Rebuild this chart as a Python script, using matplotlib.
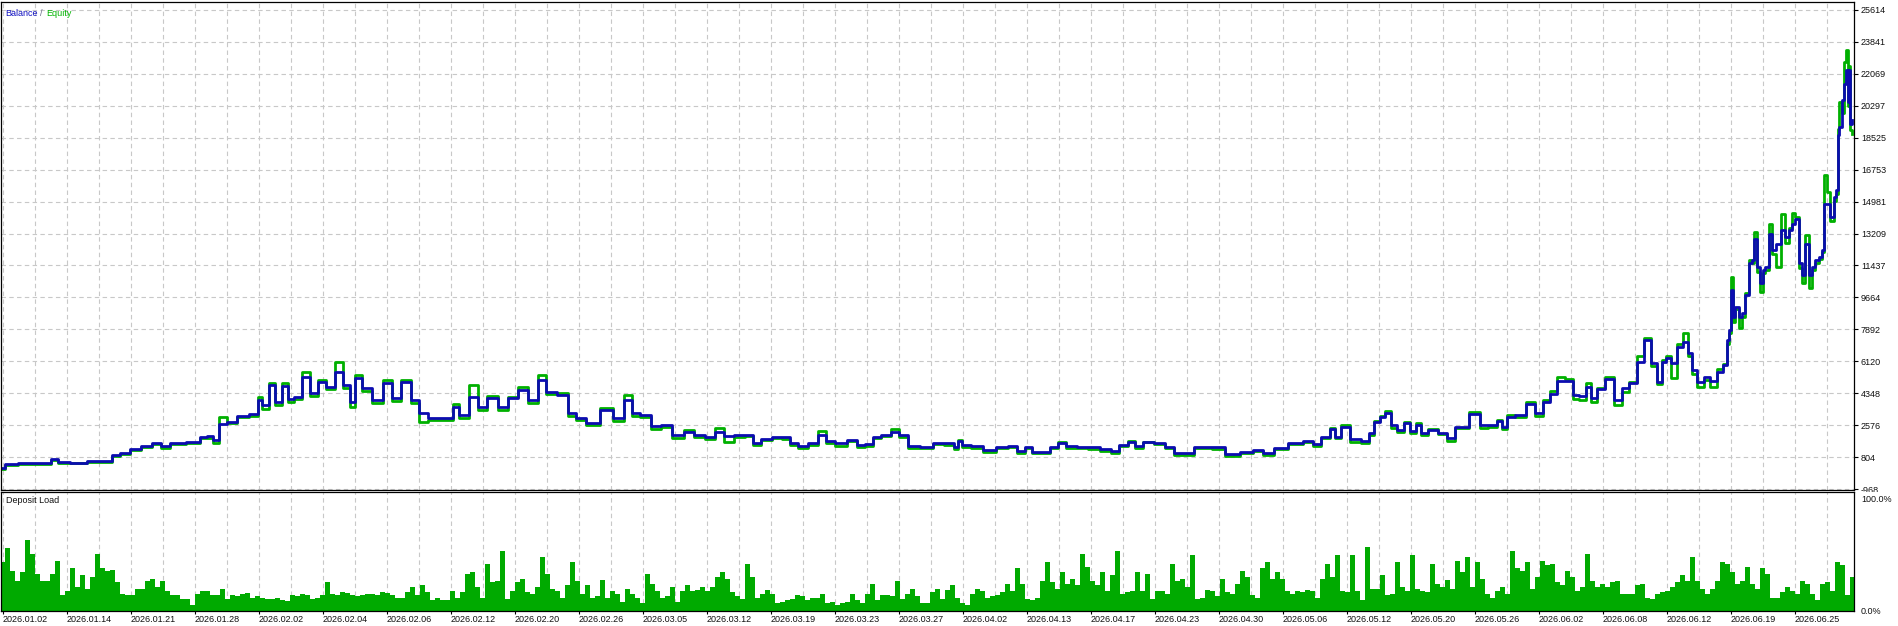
import matplotlib.pyplot as plt
import numpy as np

plt.rcParams['font.family'] = ['Liberation Sans', 'DejaVu Sans']

# balance / equity curve, x = deal number
deal = [0, 10, 25, 45, 56, 60, 80, 94, 109, 114, 125, 134, 147, 156, 165, 175, 196, 203, 210, 216,
        221, 232, 241, 257, 259, 265, 272, 278, 286, 290, 298, 306, 314, 321, 330, 339, 346, 353, 357, 367,
        377, 388, 395, 406, 415, 422, 433, 451, 455, 462, 475, 480, 493, 502, 513, 522, 533, 542, 549, 565,
        571, 580, 592, 607, 618, 629, 634, 646, 656, 665, 679, 688, 700, 710, 720, 727, 740, 750, 755, 767,
        777, 787, 793, 803, 813, 822, 830, 840, 853, 860, 870, 875, 887, 895, 903, 913, 927, 938, 950, 957,
        959, 965, 977, 988, 1003, 1013, 1020, 1030, 1033, 1047, 1053, 1062, 1070, 1083, 1093, 1107, 1115, 1123, 1132, 1138,
        1148, 1160, 1170, 1178, 1190, 1197, 1207, 1217, 1233, 1247, 1258, 1268, 1280, 1295, 1310, 1315, 1327, 1332, 1337, 1345,
        1355, 1367, 1370, 1378, 1382, 1388, 1393, 1400, 1407, 1413, 1418, 1423, 1433, 1443, 1450, 1460, 1477, 1483, 1493, 1500,
        1503, 1510, 1520, 1532, 1538, 1547, 1553, 1560, 1570, 1575, 1583, 1588, 1593, 1600, 1610, 1618, 1625, 1633, 1640, 1648,
        1653, 1660, 1663, 1668, 1673, 1680, 1685, 1690, 1693, 1700, 1707, 1713, 1720, 1725, 1728, 1730, 1732, 1733, 1737, 1740,
        1743, 1747, 1750, 1753, 1755, 1758, 1762, 1763, 1767, 1770, 1773, 1778, 1783, 1787, 1790, 1793, 1797, 1800, 1803, 1807,
        1810, 1813, 1817, 1820, 1823, 1825, 1828, 1832, 1835, 1837, 1838, 1840, 1843, 1845, 1847, 1848, 1849, 1851, 1852]

balance = [195, 433, 472, 472, 693, 544, 516, 599, 599, 931, 1059, 1264, 1430, 1613, 1430, 1624, 1668, 1945, 2000, 1762,
           2648, 2759, 3119, 3202, 3977, 3700, 4808, 3883, 4753, 4016, 4160, 5234, 4348, 4991, 4714, 5545, 4808, 3883, 5179, 4625,
           3977, 4902, 4071, 4991, 3977, 3241, 2964, 2964, 3606, 3147, 4160, 3606, 4071, 3606, 4071, 4531, 3977, 5085, 4437, 4254,
           3241, 2964, 2720, 3423, 2964, 3977, 3241, 3147, 2537, 2593, 2039, 2222, 2039, 1912, 2222, 1984, 2039, 2039, 1613, 1801,
           1912, 1912, 1613, 1430, 1579, 2039, 1723, 1579, 1762, 1485, 1541, 1912, 2039, 2222, 2039, 1430, 1391, 1613, 1613, 1391,
           1723, 1485, 1430, 1208, 1391, 1430, 1170, 1358, 1114, 1114, 1358, 1613, 1430, 1391, 1358, 1247, 1170, 1485, 1668, 1430,
           1668, 1613, 1391, 1059, 1026, 1391, 1391, 1391, 987, 1114, 1208, 1026, 1302, 1613, 1723, 1541, 1945, 2355, 1945, 2465,
           1801, 1723, 2133, 2776, 3052, 3274, 2593, 2316, 2687, 2277, 2593, 2166, 2316, 2166, 1856, 2499, 3202, 2593, 2593, 2831,
           2499, 3052, 3147, 3756, 3241, 3883, 4310, 5046, 5046, 4254, 4199, 4714, 4071, 4570, 5124, 3977, 4625, 4902, 6098, 7300,
           6010, 4991, 6098, 6287, 6043, 6929, 7206, 6564, 5639, 4991, 5234, 5046, 5545, 5916, 7300, 7854, 10069, 8574, 9144, 8590,
           8795, 9792, 11548, 11730, 12932, 11359, 10440, 11177, 11359, 13209, 12284, 12655, 13392, 13021, 13392, 13763, 14040, 11548, 10900, 12655,
           10900, 11359, 11730, 11913, 12284, 14871, 14871, 14128, 15236, 15607, 18653, 19113, 20592, 21517, 22253, 20497, 22253, 19301, 19484]

equity = [150, 380, 420, 430, 650, 500, 470, 560, 540, 880, 1000, 1200, 1350, 1560, 1320, 1560, 1600, 1900, 1880, 1600,
          3050, 2700, 3050, 3100, 4150, 3500, 4950, 3700, 4900, 3850, 4050, 5545, 4200, 5100, 4600, 6098, 4650, 3606, 5350, 4480,
          3800, 5100, 3900, 5100, 3800, 2750, 2850, 2880, 3750, 3000, 4808, 3450, 4200, 3450, 4150, 4700, 3800, 5362, 4300, 4350,
          3100, 2850, 2600, 3550, 2800, 4254, 3100, 3050, 2400, 2500, 1900, 2300, 1950, 1800, 2410, 1668, 1950, 1980, 1500, 1750,
          1850, 1800, 1500, 1300, 1500, 2260, 1600, 1450, 1700, 1350, 1450, 1850, 2000, 2355, 1950, 1300, 1300, 1550, 1500, 1280,
          1750, 1380, 1330, 1100, 1320, 1350, 1060, 1300, 1020, 1030, 1300, 1650, 1330, 1300, 1280, 1150, 1070, 1420, 1700, 1330,
          1640, 1520, 1300, 950, 940, 1340, 1300, 1280, 900, 1050, 1150, 950, 1250, 1550, 1680, 1420, 1900, 2450, 1850, 2600,
          1650, 1600, 2050, 2800, 3100, 3350, 2450, 2200, 2750, 2150, 2700, 2050, 2400, 2080, 1700, 2450, 3300, 2450, 2500, 2900,
          2350, 3150, 3050, 3850, 3100, 4000, 4500, 5250, 5150, 4050, 4000, 4900, 3850, 4650, 5250, 3700, 4450, 5000, 6400, 7394,
          5850, 4863, 6200, 6400, 5179, 7100, 7671, 6400, 5400, 4714, 5100, 4714, 5700, 5950, 7100, 7700, 10806, 8300, 9000, 7966,
          8600, 9900, 11730, 11600, 13297, 11100, 9975, 11000, 11200, 13763, 12100, 11359, 14317, 12700, 13500, 14350, 14100, 11300, 10440, 13117,
          10163, 11200, 11600, 11800, 12200, 16438, 15513, 13900, 15000, 15400, 19000, 20497, 19870, 22713, 23400, 20300, 22500, 18930, 18745]

# deposit load, %, one bar per 5 deals
load = [44, 56, 36, 27, 35, 63, 51, 33, 27, 27, 33, 45, 14, 18, 38, 21, 32, 20, 30, 51,
        38, 36, 37, 26, 15, 14, 14, 20, 20, 27, 29, 21, 27, 18, 14, 14, 11, 11, 5, 15,
        18, 18, 14, 14, 20, 11, 14, 13, 15, 16, 12, 13, 12, 11, 11, 12, 10, 9, 14, 13,
        15, 14, 11, 12, 14, 26, 15, 14, 17, 16, 14, 13, 14, 15, 15, 14, 17, 16, 14, 12,
        12, 17, 21, 14, 23, 17, 10, 12, 10, 10, 18, 12, 17, 33, 35, 21, 12, 42, 26, 27,
        54, 11, 18, 26, 29, 17, 15, 21, 48, 33, 20, 18, 12, 23, 44, 27, 15, 23, 12, 13,
        28, 12, 18, 15, 8, 20, 15, 12, 7, 33, 24, 18, 12, 13, 21, 8, 18, 23, 18, 19,
        21, 18, 21, 30, 35, 29, 17, 13, 11, 42, 30, 12, 15, 19, 15, 7, 8, 10, 11, 14,
        13, 10, 12, 12, 15, 7, 8, 5, 7, 8, 15, 10, 7, 15, 24, 10, 14, 14, 13, 27,
        11, 15, 20, 13, 7, 7, 17, 20, 11, 19, 23, 12, 7, 5, 15, 20, 18, 12, 13, 14,
        17, 24, 18, 38, 24, 11, 10, 12, 27, 44, 26, 20, 35, 24, 29, 23, 51, 39, 27, 23,
        35, 18, 32, 54, 15, 17, 18, 35, 18, 33, 11, 18, 18, 15, 42, 27, 29, 21, 50, 11,
        12, 19, 18, 13, 29, 17, 15, 24, 36, 30, 14, 12, 38, 44, 29, 35, 29, 18, 15, 18,
        17, 19, 18, 12, 29, 42, 30, 50, 18, 17, 50, 18, 10, 57, 20, 20, 32, 14, 15, 44,
        21, 18, 50, 20, 18, 17, 42, 24, 21, 28, 20, 45, 35, 48, 21, 44, 29, 15, 12, 18,
        21, 15, 54, 38, 36, 44, 20, 30, 45, 41, 42, 26, 23, 36, 30, 18, 21, 51, 27, 21,
        24, 21, 26, 27, 15, 15, 15, 23, 24, 12, 11, 15, 17, 18, 21, 26, 32, 27, 48, 27,
        20, 15, 20, 27, 44, 42, 35, 24, 27, 39, 24, 20, 38, 33, 12, 12, 17, 21, 18, 15,
        27, 24, 15, 10, 24, 26, 18, 44, 41, 14, 30]
load_deal = np.arange(len(load)) * 5

y_ticks = [-968, 804, 2576, 4348, 6120, 7892, 9664, 11437, 13209, 14981,
           16753, 18525, 20297, 22069, 23841, 25614]
dates = ['2026.01.02', '2026.01.14', '2026.01.21', '2026.01.28', '2026.02.02', '2026.02.04',
         '2026.02.06', '2026.02.12', '2026.02.20', '2026.02.26', '2026.03.05', '2026.03.12',
         '2026.03.19', '2026.03.23', '2026.03.27', '2026.04.02', '2026.04.13', '2026.04.17',
         '2026.04.23', '2026.04.30', '2026.05.06', '2026.05.12', '2026.05.20', '2026.05.26',
         '2026.06.02', '2026.06.08', '2026.06.12', '2026.06.19', '2026.06.25']

W, H = 1898, 626
def box(l, t, r, b):
    return [l / W, 1 - b / H, (r - l) / W, (b - t) / H]

fig = plt.figure(figsize=(W / 100, H / 100), dpi=100)
ax = fig.add_axes(box(1, 2, 1854, 490), zorder=0)
cover = fig.add_axes(box(1855, 491.5, 1898, 626), zorder=1)
ax2 = fig.add_axes(box(1, 492, 1854, 611), zorder=2)

cover.set_facecolor('white')
cover.set_xticks([]); cover.set_yticks([])
for s in cover.spines.values():
    s.set_visible(False)

grid_kw = dict(color='#c8c8c8', linestyle=(0, (4, 3)), linewidth=0.8)
txt = '#111111'
xgrid = np.arange(3, 1854, 32)

# main panel
ax.plot(deal, equity, color='#00b000', lw=2.0, drawstyle='steps-mid')
ax.plot(deal, balance, color='#0c0cb0', lw=2.0, drawstyle='steps-mid')
ax.set_xlim(1, 1854)
ax.set_ylim(-1007, 26041)
ax.set_xticks(xgrid)
ax.set_xticklabels([])
ax.tick_params(axis='x', length=0)
ax.yaxis.tick_right()
ax.set_yticks(y_ticks)
ax.set_yticklabels([str(v) for v in y_ticks])
ax.tick_params(axis='y', length=3, width=0.8, pad=2, labelsize=6.5, labelcolor=txt)
ax.grid(True, **grid_kw)
ax.set_axisbelow(True)

# deposit load panel
ax2.bar(load_deal, load, width=5, align='edge', color='#00aa00', linewidth=0)
ax2.set_xlim(1, 1854)
ax2.set_ylim(0, 106.25)
ax2.yaxis.tick_right()
ax2.set_yticks([0, 100])
ax2.set_yticklabels(['0.0%', '100.0%'])
ax2.tick_params(axis='y', length=0, pad=5, labelsize=6.5, labelcolor=txt)
ax2.set_xticks(np.arange(3, 1854, 64))
ax2.set_xticklabels(dates, ha='left')
ax2.set_xticks(np.arange(35, 1854, 64), minor=True)
ax2.tick_params(axis='x', which='major', length=2.5, width=0.8, pad=0.5, labelsize=6.5, labelcolor=txt)
ax2.tick_params(axis='x', which='minor', length=0)
ax2.grid(True, axis='x', which='both', **grid_kw)
ax2.set_axisbelow(True)

for a in (ax, ax2):
    for s in a.spines.values():
        s.set_color('black')
        s.set_linewidth(0.9)

fig.text(5 / W, 1 - 13 / H, 'Balance', color='#1010c0', fontsize=6.5, va='center')
fig.text(40 / W, 1 - 13 / H, '/', color='#6a6a8a', fontsize=6.5, va='center')
fig.text(46 / W, 1 - 13 / H, 'Equity', color='#00b400', fontsize=6.5, va='center')
fig.text(6 / W, 1 - 500.5 / H, 'Deposit Load', color=txt, fontsize=6.5, va='center')

fig.savefig('out.png', dpi=100)
